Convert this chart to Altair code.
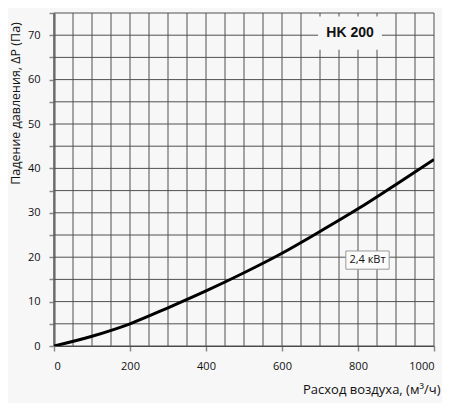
import altair as alt
import pandas as pd

# Curve data
flow = [0, 100, 200, 300, 400, 500, 600, 700, 800, 900, 1000]
dp = [0, 2.2, 5.0, 8.6, 12.4, 16.5, 20.9, 25.8, 30.9, 36.4, 42.0]

# Label boxes
model_label = ["HK 200"]
model_box_x = [695]
model_box_x2 = [863]
model_box_y = [66.7]
model_box_y2 = [74.2]
model_text_x = [779]
model_text_y = [70.4]

power_label = ["2,4 кВт"]
power_box_x = [768]
power_box_x2 = [882]
power_box_y = [17.3]
power_box_y2 = [21.4]
power_text_x = [825]
power_text_y = [19.3]

x_ticks = list(range(0, 1001, 50))
y_ticks = list(range(0, 76, 5))
x_min, x_max = 0, 1000
y_min, y_max = 0, 75

BG = "#f7f7f7"
FONT = "Open Sans"
GRID = "#505050"

curve_df = pd.DataFrame({"q": flow, "dp": dp})

xscale = alt.Scale(domain=[x_min, x_max], nice=False, zero=False)
yscale = alt.Scale(domain=[y_min, y_max], nice=False, zero=False)

x_axis = alt.Axis(
    values=x_ticks,
    grid=False,
    format="d",
    labelExpr="datum.value % 200 === 0 ? datum.label : ''",
    tickOpacity={"condition": {"test": "datum.value % 200 === 0", "value": 1}, "value": 0},
    tickSize=5,
    tickColor="#888888",
    tickWidth=1.5,
    labelPadding=9,
    labelFont=FONT,
    labelFontSize=11,
    labelColor="#111111",
    domainColor="#444444",
    domainWidth=1,
    title="Расход воздуха, (м³/ч)",
    titleFont=FONT,
    titleFontSize=13,
    titleFontWeight="normal",
    titleColor="#111111",
    titleX=386,
    titleY=43,
    titleAlign="right",
    titleBaseline="middle",
    titleAnchor="start",
)

y_axis = alt.Axis(
    values=y_ticks,
    grid=False,
    format="d",
    labelExpr="datum.value % 10 === 0 ? datum.label : ''",
    tickSize=5,
    tickColor="#888888",
    tickWidth=1.5,
    labelPadding=9,
    labelFont=FONT,
    labelFontSize=11,
    labelColor="#111111",
    domainColor="#888888",
    domainWidth=2.5,
    title="Падение давления, ΔP (Па)",
    titleFont=FONT,
    titleFontSize=12.5,
    titleFontWeight="normal",
    titleColor="#111111",
    titleX=-39,
    titleY=90,
    titleAngle=270,
    titleAlign="center",
    titleBaseline="middle",
    titleAnchor="start",
)

vgrid_df = pd.DataFrame({"gx": x_ticks, "y0": [y_min] * len(x_ticks), "y1": [y_max] * len(x_ticks)})
hgrid_df = pd.DataFrame({"gy": y_ticks, "x0": [x_min] * len(y_ticks), "x1": [x_max] * len(y_ticks)})

vgrid = alt.Chart(vgrid_df).mark_rule(color=GRID, strokeWidth=1).encode(
    x=alt.X("gx:Q", scale=xscale, axis=x_axis),
    y=alt.Y("y0:Q", scale=yscale, axis=y_axis),
    y2="y1:Q",
)

hgrid = alt.Chart(hgrid_df).mark_rule(color=GRID, strokeWidth=1).encode(
    y=alt.Y("gy:Q", scale=yscale, axis=y_axis),
    x=alt.X("x0:Q", scale=xscale, axis=x_axis),
    x2="x1:Q",
)

curve = alt.Chart(curve_df).mark_line(
    color="black", strokeWidth=3, interpolate="monotone", clip=True
).encode(
    x=alt.X("q:Q", scale=xscale, axis=x_axis),
    y=alt.Y("dp:Q", scale=yscale, axis=y_axis),
)

model_df = pd.DataFrame({
    "label": model_label, "x": model_box_x, "x2": model_box_x2,
    "y": model_box_y, "y2": model_box_y2, "tx": model_text_x, "ty": model_text_y,
})
model_box = alt.Chart(model_df).mark_rect(fill=BG).encode(
    x=alt.X("x:Q", scale=xscale, axis=x_axis), x2="x2:Q",
    y=alt.Y("y:Q", scale=yscale, axis=y_axis), y2="y2:Q",
)
model_text = alt.Chart(model_df).mark_text(
    font="Liberation Sans", fontSize=14, fontWeight="bold", color="#111111",
    align="center", baseline="middle"
).encode(
    x=alt.X("tx:Q", scale=xscale, axis=x_axis),
    y=alt.Y("ty:Q", scale=yscale, axis=y_axis),
    text="label:N",
)

power_df = pd.DataFrame({
    "label": power_label, "x": power_box_x, "x2": power_box_x2,
    "y": power_box_y, "y2": power_box_y2, "tx": power_text_x, "ty": power_text_y,
})
power_box = alt.Chart(power_df).mark_rect(fill="#fbfbfb", stroke="#999999", strokeWidth=1).encode(
    x=alt.X("x:Q", scale=xscale, axis=x_axis), x2="x2:Q",
    y=alt.Y("y:Q", scale=yscale, axis=y_axis), y2="y2:Q",
)
power_text = alt.Chart(power_df).mark_text(
    font=FONT, fontSize=11, color="#111111", align="center", baseline="middle"
).encode(
    x=alt.X("tx:Q", scale=xscale, axis=x_axis),
    y=alt.Y("ty:Q", scale=yscale, axis=y_axis),
    text="label:N",
)

chart = alt.layer(vgrid, hgrid, curve, model_box, model_text, power_box, power_text).properties(
    width=380,
    height=333,
    autosize=alt.AutoSizeParams(type="none"),
    padding={"left": 46, "top": 5, "right": 8, "bottom": 57},
    background=BG,
).configure_view(stroke=None)

chart.save("out.html", embed_options={"renderer": "svg", "actions": False})
